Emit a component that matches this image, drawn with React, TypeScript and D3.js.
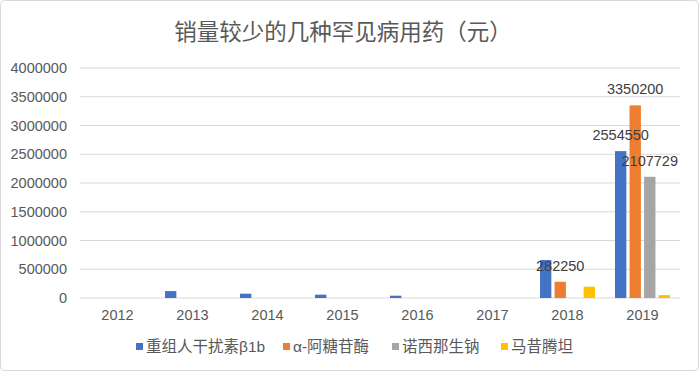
import React from 'react';
import * as d3 from 'd3';

const years = ['2012', '2013', '2014', '2015', '2016', '2017', '2018', '2019'];
const seriesNames = ['重组人干扰素β1b', 'α-阿糖苷酶', '诺西那生钠', '马昔腾坦'];
const seriesColors = ['#4472c4', '#ed7d31', '#a5a5a5', '#ffc000'];

const interferon = [0, 120000, 75000, 58000, 40000, 0, 660000, 2554550];
const alglucosidase = [0, 0, 0, 0, 0, 0, 282250, 3350200];
const nusinersen = [0, 0, 0, 0, 0, 0, 0, 2107729];
const macitentan = [0, 0, 0, 0, 0, 0, 196000, 50000];
const seriesValues = [interferon, alglucosidase, nusinersen, macitentan];

// which bars carry a data label: [series, year]
const labelled = [[1, 6], [0, 7], [1, 7], [2, 7]];

const yTicks = [0, 500000, 1000000, 1500000, 2000000, 2500000, 3000000, 3500000, 4000000];

const W = 700;
const H = 372;
const font = '"Liberation Sans", "Noto Sans CJK SC", sans-serif';

const App = () => {
  const x = d3.scaleBand().domain(years).range([80, 680]);
  const x1 = d3
    .scaleBand()
    .domain(d3.range(4).map(String))
    .range([10, x.bandwidth() - 10])
    .paddingInner(0.22);
  const y = d3.scaleLinear().domain([0, 4000000]).range([298, 68]);

  const legendX = [136, 283, 392, 501];

  return (
    <svg
      width={W}
      height={H}
      style={{ position: 'absolute', left: 0, top: 0, background: '#fff' }}
    >
      <rect x={0.5} y={0.5} width={W - 2} height={H - 2} rx={4} fill="#fff" stroke="#d9d9d9" />
      <text
        x={343}
        y={40}
        textAnchor="middle"
        fontSize="22.5px"
        fill="#595959"
        fontFamily={font}
      >
        销量较少的几种罕见病用药（元）
      </text>

      {yTicks.map(t => (
        <g key={t}>
          <line x1={80} x2={680} y1={y(t)} y2={y(t)} stroke="#d9d9d9" strokeWidth={1} />
          <text
            x={67}
            y={y(t)}
            dy="0.35em"
            textAnchor="end"
            fontSize="14.5px"
            fill="#595959"
            fontFamily={font}
          >
            {t}
          </text>
        </g>
      ))}

      {years.map(yr => (
        <text
          key={yr}
          x={x(yr) + x.bandwidth() / 2}
          y={320}
          textAnchor="middle"
          fontSize="14.5px"
          fill="#595959"
          fontFamily={font}
        >
          {yr}
        </text>
      ))}

      {seriesValues.map((vals, s) =>
        vals.map((v, i) =>
          v > 0 ? (
            <rect
              key={`${s}-${i}`}
              x={x(years[i]) + x1(String(s))}
              y={y(v)}
              width={x1.bandwidth()}
              height={y(0) - y(v)}
              fill={seriesColors[s]}
            />
          ) : null
        )
      )}

      {labelled.map(([s, i]) => {
        const v = seriesValues[s][i];
        return (
          <text
            key={`l-${s}-${i}`}
            x={x(years[i]) + x1(String(s)) + x1.bandwidth() / 2}
            y={y(v) - 11}
            textAnchor="middle"
            fontSize="14.5px"
            fill="#404040"
            fontFamily={font}
          >
            {v}
          </text>
        );
      })}

      {seriesNames.map((name, s) => (
        <g key={name}>
          <rect x={legendX[s]} y={343} width={7} height={7} fill={seriesColors[s]} />
          <text
            x={legendX[s] + 10}
            y={347}
            dy="0.35em"
            fontSize="15.5px"
            fill="#595959"
            fontFamily={font}
          >
            {name}
          </text>
        </g>
      ))}
    </svg>
  );
};

export default App;
